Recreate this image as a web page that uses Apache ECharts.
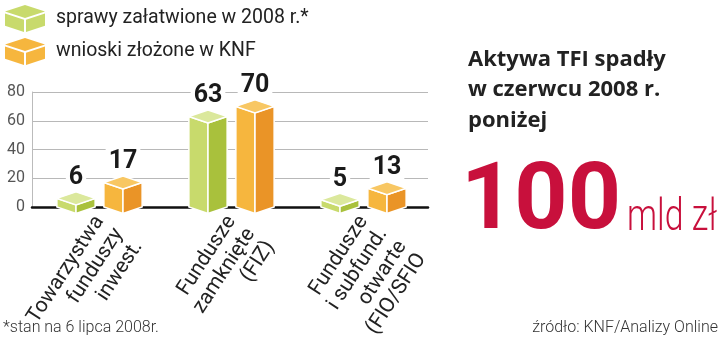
<!DOCTYPE html>
<html><head><meta charset="utf-8">
<script src="https://cdn.jsdelivr.net/npm/echarts@6/dist/echarts.min.js"></script>
<style>html,body{margin:0;padding:0;background:#fff}#c{width:720px;height:346px}</style>
</head><body><div id="c"></div>
<script>
const categories = ['Towarzystwa\nfunduszy\ninwest.', 'Fundusze\nzamknięte\n(FIZ)', 'Fundusze\ni subfund.\notwarte\n(FIO/SFIO'];
const settled = [6, 63, 5];
const applications = [17, 70, 13];
const seriesNames = ['sprawy załatwione w 2008 r.*', 'wnioski złożone w KNF'];
const yTicks = [0, 20, 40, 60, 80];
const titleText = 'Aktywa TFI spadły\nw czerwcu 2008 r.\nponiżej';
const bigValue = '100';
const bigUnit = 'mld zł';
const footnote = '*stan na 6 lipca 2008r.';
const source = 'źródło: KNF/Analizy Online';

const greenFaces = {left: '#c8da6c', right: '#a9c13c', top: '#dbe89c'};
const orangeFaces = {left: '#f6b63e', right: '#ea9427', top: '#f8c763'};

function makeRender(faces, shift) {
  return function (params, api) {
    const cat = api.value(0), v = api.value(1);
    const top = api.coord([cat, v]);
    const base = api.coord([cat, 0]);
    const band = api.size([1, 0])[0];
    const w = band * 0.29;
    const d = 6.5;
    const cx = top[0] + shift * band + 1.5;
    const xl = cx - w / 2, xr = cx + w / 2, xm = cx;
    const yt = top[1], yb = base[1];
    const st = {stroke: '#fff', lineWidth: 1.5};
    return {
      type: 'group',
      children: [
        {type: 'polygon', shape: {points: [[xl, yt], [xm, yt + d], [xm, yb + d], [xl, yb]]}, style: Object.assign({fill: faces.left}, st)},
        {type: 'polygon', shape: {points: [[xm, yt + d], [xr, yt], [xr, yb], [xm, yb + d]]}, style: Object.assign({fill: faces.right}, st)},
        {type: 'polygon', shape: {points: [[xl, yt], [xm, yt - d], [xr, yt], [xm, yt + d]]}, style: Object.assign({fill: faces.top}, st)},
        {type: 'text', style: {text: String(v), x: cx, y: yt - d - 14, textAlign: 'center', textVerticalAlign: 'middle',
          font: 'bold 25px Roboto', fill: '#1a1a1a', backgroundColor: '#fff', padding: [1, 3]}}
      ]
    };
  };
}

const cubeIcon = 'path://M0,6.5L20,0L40,6.5L20,13Z M0,8.5L19,14.8L19,27L0,20.7Z M21,14.8L40,8.5L40,20.7L21,27Z';

const chart = echarts.init(document.getElementById('c'), null, {renderer: 'canvas'});
chart.setOption({
  animation: false,
  backgroundColor: '#fff',
  textStyle: {fontFamily: 'Roboto'},
  title: {
    text: titleText, left: 463, top: 39,
    textStyle: {fontSize: 22, fontWeight: 'bold', lineHeight: 30.5, color: '#222', fontFamily: 'Open Sans'}
  },
  legend: {
    orient: 'vertical', left: 0, top: 0, itemWidth: 40, itemHeight: 27, itemGap: 6,
    textStyle: {fontSize: 19.5, color: '#222', padding: [0, 0, 0, 6]},
    data: [
      {name: seriesNames[0], icon: cubeIcon, itemStyle: {color: greenFaces.left}},
      {name: seriesNames[1], icon: cubeIcon, itemStyle: {color: orangeFaces.left}}
    ]
  },
  grid: {left: 32, right: 292, top: 92, bottom: 139, containLabel: false, outerBoundsMode: 'none'},
  xAxis: {
    type: 'category', data: categories,
    axisLine: {show: true, lineStyle: {color: '#111', width: 2.5}},
    axisTick: {show: false},
    axisLabel: {
      interval: 0, rotate: 57, align: 'right', verticalAlign: 'top', margin: -8,
      padding: [0, 15, 0, 0],
      fontSize: 21, lineHeight: 23, color: '#222', fontFamily: 'Roboto'
    }
  },
  yAxis: {
    type: 'value', min: yTicks[0], max: yTicks[yTicks.length - 1], interval: 20,
    axisLine: {show: true, lineStyle: {color: '#bbb', width: 1}},
    axisTick: {show: false},
    splitLine: {lineStyle: {color: '#b8b8b8', width: 1.2}},
    axisLabel: {fontSize: 16, color: '#555', margin: 7}
  },
  series: [
    {name: seriesNames[0], type: 'custom', clip: false, z: 5, itemStyle: {color: greenFaces.left},
      encode: {x: 0, y: 1}, data: settled.map((v, i) => [i, v]), renderItem: makeRender(greenFaces, -0.178)},
    {name: seriesNames[1], type: 'custom', clip: false, z: 5, itemStyle: {color: orangeFaces.left},
      encode: {x: 0, y: 1}, data: applications.map((v, i) => [i, v]), renderItem: makeRender(orangeFaces, 0.178)}
  ],
  graphic: [
    {type: 'text', x: 461, y: 205, style: {text: bigValue, font: 'bold 93px Roboto', fill: '#c8103c', textVerticalAlign: 'middle'}},
    {type: 'text', x: 627, y: 219, scaleX: 0.77, style: {text: bigUnit, font: '300 44px Roboto', fill: '#c8103c', textVerticalAlign: 'middle'}},
    {type: 'text', left: 3, top: 320, style: {text: footnote, font: '300 16px Roboto', fill: '#333'}},
    {type: 'text', right: 2, top: 320, style: {text: source, font: '300 16px Roboto', fill: '#333'}}
  ]
});
</script></body></html>
